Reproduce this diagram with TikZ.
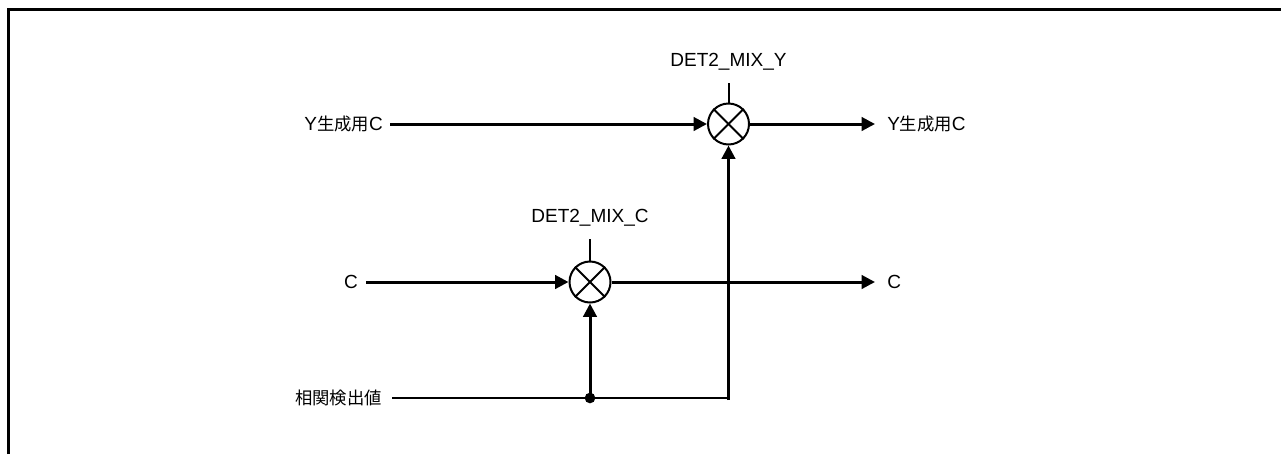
\documentclass[tikz,border=0pt]{standalone}
\usepackage{fontspec}
\setmainfont{Liberation Sans}
\newfontfamily\jp{Noto Sans CJK JP}
\usetikzlibrary{arrows.meta}
\tikzset{
  lbl/.style={inner sep=0pt, font=\fontsize{14.25pt}{16pt}\selectfont},
  mixer/.style={circle, draw, line width=1.5pt, minimum size=30.75pt, inner sep=0pt},
  sig/.style={line width=2.25pt, -{Triangle[length=10pt,width=10pt]}},
  wire/.style={line width=1.5pt},
  tick/.style={line width=1.5pt},
  frame/.style={line width=2.4pt}
}
\newcommand{\jpt}[1]{{\jp\fontsize{13pt}{15pt}\selectfont #1}}
\begin{document}
\begin{tikzpicture}[x=0.75pt,y=-0.75pt]
\useasboundingbox (0,0) rectangle (1281,454);
\draw[frame] (8.5,454) -- (8.5,9.5) -- (1282,9.5);
% mixers
\node[mixer] (mY) at (728.5,124) {};
\node[mixer] (mC) at (590,282) {};
\foreach \m in {mY,mC}{
  \draw[tick] (\m.north west) -- (\m.south east);
  \draw[tick] (\m.north east) -- (\m.south west);
}
% labels of mixers
\node[lbl] (lY) at (728.5,62) {DET2\_MIX\_Y};
\node[lbl] (lC) at (590,218) {DET2\_MIX\_C};
\coordinate (tY) at (728.5,83);
\coordinate (tC) at (590,239);
\draw[tick] (tY) -- (mY.north);
\draw[tick] (tC) -- (mC.north);
% inputs
\node[lbl, anchor=east] (inY) at (383,124) {Y\jpt{生成用}C};
\node[lbl, anchor=east] (inC) at (358,282) {C};
\node[lbl, anchor=east] (inK) at (382,398) {\jpt{相関検出値}};
\coordinate (sY) at (390,124);
\coordinate (sC) at (366,282);
\coordinate (sK) at (392,398);
\draw[sig] (sY) -- (mY.west);
\draw[sig] (sC) -- (mC.west);
% outputs
\node[lbl, anchor=west] (outY) at (887,124) {Y\jpt{生成用}C};
\node[lbl, anchor=west] (outC) at (887,282) {C};
\coordinate (eY) at (875,124);
\coordinate (eC) at (875,282);
\draw[sig] (mY.east) -- (eY);
\draw[sig] (mC.east) -- (eC);
% correlation
\coordinate (dot) at (590,398);
\coordinate (kE) at (729.5,398);
\coordinate (kB) at (728.5,400);
\draw[wire] (sK) -- (kE);
\fill (dot) circle (4pt);
\draw[sig] (dot) -- (mC.south);
\draw[sig] (kB) -- (mY.south);
\end{tikzpicture}
\end{document}
